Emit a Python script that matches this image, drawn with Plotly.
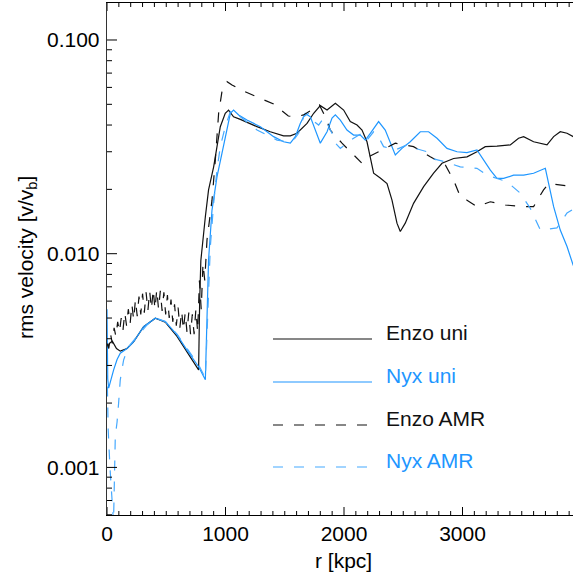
import math
import plotly.graph_objects as go

# ---------------- data ----------------
enzo_uni_r = [0, 20, 45, 80, 112, 169, 224, 309, 408, 492, 591, 675, 773, 782, 792, 830, 857, 900, 956, 998,
              1026, 1068, 1125, 1266, 1378, 1490, 1547, 1603, 1688, 1744, 1800, 1857, 1927, 1997, 2053, 2110,
              2152, 2194, 2222, 2250, 2306, 2363, 2405, 2447, 2475, 2517, 2587, 2672, 2756, 2827, 2925, 3038,
              3122, 3192, 3291, 3403, 3473, 3516, 3600, 3713, 3769, 3825, 3882, 3935]
enzo_uni_v = [0.0036, 0.0038, 0.0039, 0.0036, 0.0035, 0.0036, 0.00387, 0.00455, 0.00499, 0.00478, 0.00410,
              0.00345, 0.00286, 0.0060, 0.0093, 0.0149, 0.0199, 0.0255, 0.0393, 0.0454, 0.0470, 0.0437, 0.0425,
              0.0393, 0.0372, 0.0356, 0.0356, 0.0366, 0.0407, 0.0454, 0.0493, 0.0470, 0.0506, 0.0470, 0.0415,
              0.0400, 0.0379, 0.0334, 0.0284, 0.0238, 0.0226, 0.0213, 0.0178, 0.0139, 0.0127, 0.0139, 0.0172,
              0.0206, 0.0238, 0.0265, 0.0279, 0.0284, 0.0300, 0.0317, 0.0319, 0.0323, 0.0347, 0.0353, 0.0334,
              0.0323, 0.0353, 0.0372, 0.0366, 0.0353]

nyx_uni_r = [0, 6, 14, 35, 56, 85, 112, 169, 224, 309, 408, 492, 591, 675, 773, 830, 857, 886, 928, 970, 1013,
             1041, 1068, 1111, 1181, 1294, 1406, 1490, 1547, 1589, 1631, 1673, 1716, 1758, 1800, 1857, 1899,
             1927, 1969, 2025, 2081, 2138, 2180, 2222, 2292, 2348, 2433, 2489, 2559, 2644, 2714, 2785, 2869,
             2954, 3038, 3122, 3178, 3235, 3291, 3347, 3431, 3516, 3600, 3671, 3699, 3727, 3769, 3825, 3882, 3935]
nyx_uni_v = [0.0055, 0.0026, 0.00235, 0.0026, 0.00286, 0.0032, 0.00342, 0.0036, 0.00387, 0.00455, 0.00499,
             0.00481, 0.00417, 0.00354, 0.00296, 0.00257, 0.00934, 0.0160, 0.0229, 0.0295, 0.0393, 0.0454,
             0.0470, 0.0446, 0.0422, 0.0393, 0.0353, 0.0334, 0.0329, 0.0353, 0.0407, 0.0453, 0.0437, 0.0379,
             0.0329, 0.0372, 0.0431, 0.0446, 0.0422, 0.0379, 0.0359, 0.0359, 0.0340, 0.0366, 0.0415, 0.0379,
             0.0290, 0.0311, 0.0334, 0.0372, 0.0372, 0.0347, 0.0311, 0.0300, 0.0297, 0.0306, 0.0274, 0.0246,
             0.0225, 0.0225, 0.0233, 0.0233, 0.0238, 0.0246, 0.0251, 0.0213, 0.0166, 0.0129, 0.0108, 0.0088]

enzo_amr_r = [0, 15, 30, 45, 60, 75, 90, 105, 120, 135, 150, 165, 180, 195, 210, 225, 240, 255, 270, 285, 300,
              315, 330, 345, 360, 375, 390, 405, 420, 435, 450, 465, 480, 495, 510, 525, 540, 555, 570, 585, 600,
              615, 630, 645, 660, 675, 690, 705, 720, 735, 750, 765, 780, 795, 810, 825, 844, 870, 886, 914, 942,
              970, 1013, 1055, 1133, 1260, 1406, 1530, 1589, 1659, 1716, 1792, 1843, 1884, 1983, 2095, 2152,
              2208, 2322, 2433, 2587, 2728, 2855, 2925, 2981, 3038, 3122, 3235, 3361, 3516, 3600, 3684, 3727,
              3825, 3935]
enzo_amr_v = [0.0038, 0.0036, 0.0042, 0.0038, 0.0045, 0.0041, 0.0048, 0.0043, 0.0050, 0.0044, 0.0053, 0.0046,
              0.0055, 0.0047, 0.0058, 0.0049, 0.0061, 0.0051, 0.0063, 0.0052, 0.0065, 0.0053, 0.0066, 0.0054,
              0.0067, 0.0055, 0.0068, 0.0055, 0.0068, 0.0055, 0.0067, 0.0054, 0.0066, 0.0052, 0.0064, 0.0050,
              0.0061, 0.0048, 0.0058, 0.0046, 0.0056, 0.0045, 0.0054, 0.0044, 0.0053, 0.0043, 0.0053, 0.0042,
              0.0052, 0.0042, 0.0055, 0.0043, 0.0075, 0.0055, 0.0090, 0.0075, 0.0116, 0.0150, 0.0178, 0.0274,
              0.0454, 0.0573, 0.0638, 0.0616, 0.0583, 0.0543, 0.0502, 0.0441, 0.0437, 0.0446, 0.0466, 0.0497,
              0.0437, 0.0379, 0.0329, 0.0284, 0.0265, 0.0284, 0.0306, 0.0329, 0.0317, 0.0284, 0.0260, 0.0221,
              0.0185, 0.0178, 0.0166, 0.0175, 0.0169, 0.0166, 0.0166, 0.0199, 0.0213, 0.0209, 0.0206]

nyx_amr_r = [0, 10, 25, 45, 55, 70, 85, 98, 112, 140, 180, 253, 338, 408, 492, 591, 675, 773, 830, 850, 872,
             900, 928, 956, 998, 1041, 1068, 1125, 1266, 1350, 1435, 1519, 1575, 1617, 1659, 1701, 1730, 1786,
             1828, 1857, 1899, 1927, 1969, 2025, 2081, 2152, 2194, 2250, 2292, 2334, 2433, 2532, 2602, 2700,
             2742, 2841, 2981, 3122, 3207, 3376, 3488, 3572, 3657, 3797, 3882, 3924]
nyx_amr_v = [0.0030, 0.0015, 0.0010, 0.00063, 0.00055, 0.0014, 0.00163, 0.0020, 0.00257, 0.00318, 0.00366,
             0.0041, 0.00464, 0.0050, 0.00482, 0.00420, 0.00362, 0.00302, 0.00262, 0.0055, 0.0108, 0.0172,
             0.0246, 0.0317, 0.0393, 0.0462, 0.0470, 0.0437, 0.0379, 0.0359, 0.0340, 0.0334, 0.0340, 0.0366,
             0.0437, 0.0454, 0.0422, 0.0400, 0.0431, 0.0407, 0.0366, 0.0329, 0.0311, 0.0329, 0.0347, 0.0366,
             0.0340, 0.0372, 0.0351, 0.0317, 0.0306, 0.0323, 0.0311, 0.0300, 0.0279, 0.0270, 0.0255, 0.0251,
             0.0233, 0.0217, 0.0192, 0.0163, 0.0129, 0.0132, 0.0155, 0.0160]

series_names = ["Enzo uni", "Nyx uni", "Enzo AMR", "Nyx AMR"]

x_major_ticks = [0, 1000, 2000, 3000]
x_minor_ticks = [v for v in range(100, 4000, 100) if v % 1000]
y_major_ticks = [0.001, 0.01, 0.1]
y_major_labels = ["0.001", "0.010", "0.100"]
y_minor_ticks = [m * d for d in (0.0001, 0.001, 0.01, 0.1) for m in range(2, 10)]

# ---------------- styling ----------------
BLACK = "#111111"
BLUE = "#1E96FF"
BLUE_D = "#45A9FF"
FONT = "Liberation Sans, Arial, Helvetica, sans-serif"
FS = 21
DASH = "10px,11px"

W, H = 573, 580
L, R, T, B = 107, 0, 3, 65
pw, ph = W - L - R, H - T - B
X_RANGE = [0, pw / 0.1185]
Y_RANGE = [-3.2227, -0.8269]

def px_x(p):
    return (p - L) / pw

def px_y(p):
    return (H - B - p) / ph

def ypaper(v):
    return (math.log10(v) - Y_RANGE[0]) / (Y_RANGE[1] - Y_RANGE[0])

fig = go.Figure()
specs = [
    (enzo_uni_r, enzo_uni_v, BLACK, "solid"),
    (nyx_uni_r, nyx_uni_v, BLUE, "solid"),
    (enzo_amr_r, enzo_amr_v, BLACK, DASH),
    (nyx_amr_r, nyx_amr_v, BLUE_D, DASH),
]
for (xs, ys, c, d), nm in zip(specs, series_names):
    fig.add_trace(go.Scatter(x=xs, y=ys, mode="lines", name=nm,
                             line=dict(color=c, width=1.2, dash=d), showlegend=False))

# tick marks (inside, IDL style; x ticks mirrored on top)
tick_line = dict(color="black", width=1)
for vals, ln in ((x_major_ticks, 8), (x_minor_ticks, 4)):
    for v in vals:
        fig.add_shape(type="line", xref="x", yref="paper", x0=v, x1=v, y0=0, y1=ln / ph, line=tick_line)
        fig.add_shape(type="line", xref="x", yref="paper", x0=v, x1=v, y0=1, y1=1 - ln / ph, line=tick_line)
for vals, ln in ((y_major_ticks, 10), (y_minor_ticks, 5)):
    for v in vals:
        yp = ypaper(v)
        if 0 <= yp <= 1:
            fig.add_shape(type="line", xref="paper", yref="paper", x0=0, x1=ln / pw, y0=yp, y1=yp,
                          line=tick_line)

# manual legend (lines + coloured labels)
leg_rows = [(339, BLACK, "solid", BLACK), (382, BLUE, "solid", BLUE),
            (425, BLACK, DASH, BLACK), (467, BLUE_D, DASH, BLUE)]
for (yb, lc, ld, tc), nm in zip(leg_rows, series_names):
    fig.add_shape(type="line", xref="paper", yref="paper",
                  x0=px_x(273), x1=px_x(372), y0=px_y(yb), y1=px_y(yb),
                  line=dict(color=lc, width=1.2, dash=ld))
    fig.add_annotation(xref="paper", yref="paper", x=px_x(384), y=px_y(yb - 7),
                       xanchor="left", yanchor="middle", showarrow=False,
                       text=nm, font=dict(family=FONT, size=FS, color=tc))

# y tick labels placed close to the axis
for v, t in zip(y_major_ticks, y_major_labels):
    fig.add_annotation(xref="paper", yref="paper", x=px_x(102), y=ypaper(v),
                       xanchor="right", yanchor="middle", showarrow=False,
                       text=t, font=dict(family=FONT, size=FS, color="black"))

# axis titles
fig.add_annotation(xref="paper", yref="paper", x=px_x(343), y=px_y(560),
                   xanchor="center", yanchor="middle", showarrow=False,
                   text="r [kpc]", font=dict(family=FONT, size=FS, color="black"))
fig.add_annotation(xref="paper", yref="paper", x=px_x(27), y=px_y(258),
                   xanchor="center", yanchor="middle", showarrow=False, textangle=-90,
                   text="rms velocity [v/v<sub>b</sub>]", font=dict(family=FONT, size=FS, color="black"))

fig.update_layout(
    width=W, height=H, autosize=False,
    margin=dict(l=L, r=R, t=T, b=B, pad=0),
    paper_bgcolor="white", plot_bgcolor="white",
    font=dict(family=FONT, size=FS, color="black"),
    showlegend=False,
)
fig.update_xaxes(
    range=X_RANGE, showgrid=False, zeroline=False,
    showline=True, linecolor="black", linewidth=1, mirror=True,
    ticks="", tickmode="array", tickvals=x_major_ticks,
    tickfont=dict(family=FONT, size=FS),
)
fig.update_yaxes(
    type="log", range=Y_RANGE, showgrid=False, zeroline=False,
    showline=True, linecolor="#333333", linewidth=1, mirror=False,
    ticks="", showticklabels=False,
)

fig.write_html("out.html")
